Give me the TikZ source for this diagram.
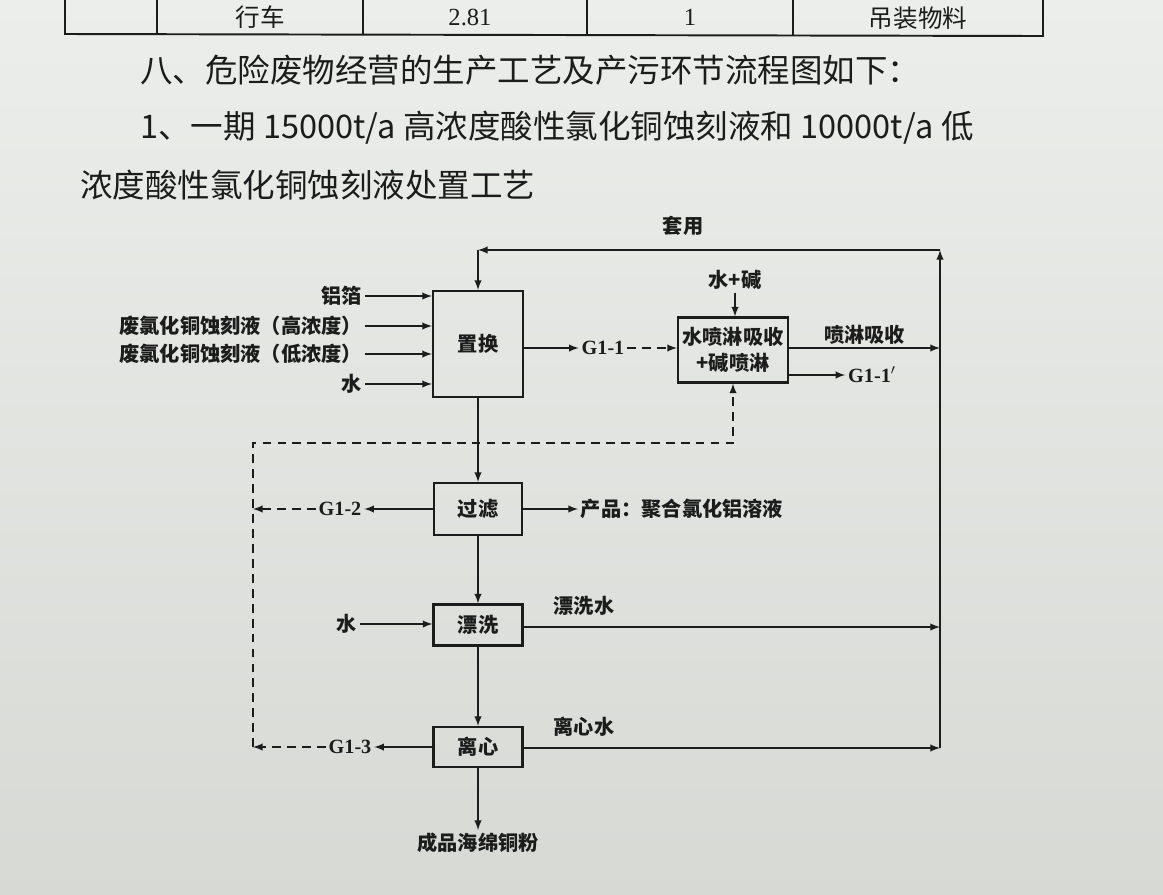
\documentclass[tikz,border=0pt]{standalone}
\usepackage{fontspec}
\setmainfont{Liberation Serif}
\newfontfamily\cjk{Noto Sans CJK SC}
\usetikzlibrary{arrows,positioning,calc}
\definecolor{paper}{RGB}{214,217,212}
\definecolor{paperlight}{RGB}{236,238,235}
\definecolor{ink}{RGB}{28,28,28}

\begin{document}
\begin{tikzpicture}[
    x=0.02cm, y=-0.02cm,
    box/.style={rectangle, draw=ink, line width=1.2pt, inner sep=0pt, align=center, text=ink, font=\cjk\fontsize{11.5}{15}\selectfont\bfseries},
    lbl/.style={inner sep=1.5pt, text=ink, font=\cjk\fontsize{11.5}{13}\selectfont\bfseries},
    gas/.style={inner sep=1.5pt, text=ink, font=\fontsize{11.5}{13}\selectfont\bfseries},
    head/.style={anchor=west, inner sep=0pt, text=ink, font=\cjk\fontsize{18.5}{22}\selectfont},
    cell/.style={inner sep=0pt, text=ink, font=\cjk\fontsize{14}{16}\selectfont},
    arrow/.style={->, >=latex, line width=0.9pt, draw=ink},
    dasharrow/.style={arrow, dash pattern=on 5pt off 3.5pt},
    tabline/.style={line width=1.1pt, draw=ink},
]
\useasboundingbox (0,0) rectangle (1163,894);
\clip (0,0) rectangle (1163,894);
\shade[top color=paperlight, bottom color=paper] (0,0) rectangle (1163,894);

% Table fragment (top)
\draw[tabline] (65,0) -- (65,34) -- (1043,36) -- (1043,0);
\foreach \tx in {157,363,587,793}
    \draw[tabline] (\tx,0) -- (\tx,35);
\node[cell] (crane) at (260,17) {行车};
\node[cell, font=\fontsize{14}{16}\selectfont] (power) at (470,17) {2.81};
\node[cell, font=\fontsize{14}{16}\selectfont] (qty) at (690,17) {1};
\node[cell] (use) at (918,18) {吊装物料};

% Heading
\node[head] (h1) at (140,70) {八、危险废物经营的生产工艺及产污环节流程图如下：};
\node[head] (h2) at (140,128) {1、一期 15000t/a 高浓度酸性氯化铜蚀刻液和 10000t/a 低};
\node[head] (h3) at (80,185) {浓度酸性氯化铜蚀刻液处置工艺};

% Process boxes
\node[box, minimum width=1.8cm, minimum height=2.12cm] (replace) at (478,344) {置换};
\node[box, minimum width=2.2cm, minimum height=1.3cm] (scrub) at (733,350) {水喷淋吸收\\+碱喷淋};
\node[box, minimum width=1.76cm, minimum height=1.04cm] (filt) at (478,509) {过滤};
\node[box, minimum width=1.78cm, minimum height=0.82cm] (rinse) at (478,625) {漂洗};
\node[box, minimum width=1.78cm, minimum height=0.8cm] (cent) at (478,747) {离心};

% Inputs
\node[lbl, anchor=east] (foil) at (365,296) {铝箔};
\node[lbl, anchor=east] (high) at (365,326) {废氯化铜蚀刻液（高浓度）};
\node[lbl, anchor=east] (low) at (365,354) {废氯化铜蚀刻液（低浓度）};
\node[lbl, anchor=east] (water1) at (365,384) {水};
\foreach \n in {foil,high,low,water1}
    \draw[arrow] (\n.east) -- (\n.east -| replace.west);

% Return loop
\coordinate (rtop) at (940,250);
\coordinate (rmid) at (940,348);
\coordinate (rwash) at (940,627);
\coordinate (rbot) at (940,748);
\coordinate (ltop) at (replace.north |- rtop);
\draw[arrow] (rbot) -- (rtop);
\draw[arrow] (rtop) -- (ltop);
\draw[arrow] (ltop) -- (replace.north);
\node[lbl] (reuse) at (683,226) {套用};

% Off-gas treatment
\node[gas] (g11) at (603,348) {G1-1};
\draw[arrow] (replace.east |- g11) -- (g11.west);
\draw[dasharrow] (g11.east) -- (scrub.west |- g11);
\node[lbl] (alkali) at (735,280) {水+碱};
\draw[arrow] (alkali.south) -- (alkali.south |- scrub.north);
\draw[arrow] (scrub.east |- rmid) -- node[lbl, above] (spray) {喷淋吸收} (rmid);
\node[gas] (g11p) at (872,375) {G1-1$'$};
\draw[arrow] (scrub.east |- g11p) -- (g11p.west);

% Dashed gas collection
\coordinate (dtop) at (253,443);
\coordinate (dbot) at (253,747);
\draw[dasharrow] (dbot) -- (dtop) -- (dtop -| scrub.south) -- (scrub.south);

% Main line
\draw[arrow] (replace.south) -- (filt.north);
\node[gas] (g12) at (340,509) {G1-2};
\draw[arrow] (filt.west) -- (g12.east);
\draw[dasharrow] (g12.west) -- (g12.west -| dtop);
\node[lbl, anchor=west] (product) at (578,509) {产品：聚合氯化铝溶液};
\draw[arrow] (filt.east) -- (product.west);

\draw[arrow] (filt.south) -- (rinse.north);
\node[lbl] (water2) at (347,624) {水};
\draw[arrow] (water2.east) -- (rinse.west |- water2);
\draw[arrow] (rinse.east |- rwash) -- (rwash);
\node[lbl] (washw) at (584,606) {漂洗水};

\draw[arrow] (rinse.south) -- (cent.north);
\draw[arrow] (cent.east |- rbot) -- (rbot);
\node[lbl] (centw) at (584,727) {离心水};
\node[gas] (g13) at (350,747) {G1-3};
\draw[arrow] (cent.west) -- (g13.east);
\draw[dasharrow] (g13.west) -- (g13.west -| dbot);

\node[lbl] (copper) at (478,843) {成品海绵铜粉};
\draw[arrow] (cent.south) -- (copper.north);

\end{tikzpicture}
\end{document}
